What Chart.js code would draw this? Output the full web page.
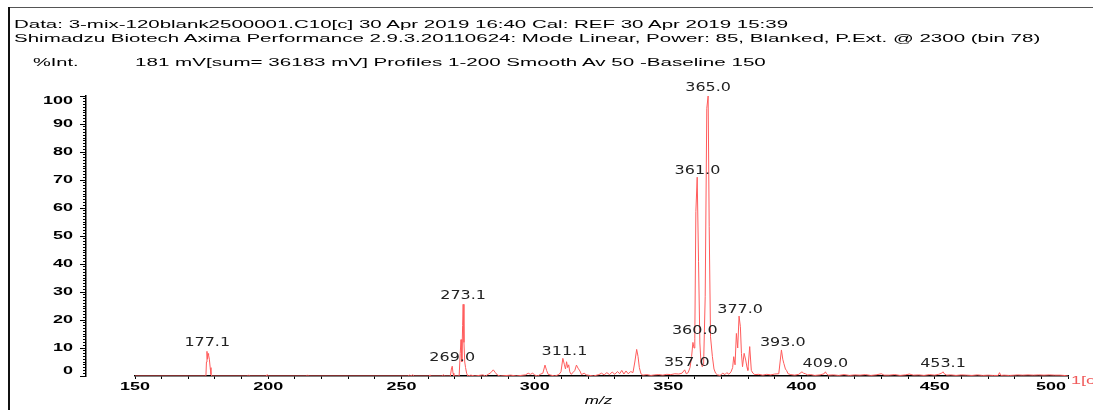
<!DOCTYPE html>
<html>
<head>
<meta charset="utf-8">
<script src="https://cdn.jsdelivr.net/npm/chart.js@4.4.1/dist/chart.umd.min.js"></script>
<style>
  html, body { margin: 0; padding: 0; background: #fff; overflow: hidden; }
  #wrap { position: relative; width: 1093px; height: 410px; overflow: hidden; }
  #spectrum { position: absolute; left: 0; top: 0; }
  .frame-top { position: absolute; left: 8px; top: 7px; right: 0; border-top: 1.5px solid #555; }
  .frame-left { position: absolute; left: 8px; top: 7px; bottom: 0; border-left: 2px solid #111; }
  .hdr { position: absolute; font: 10px "Liberation Sans", Arial, sans-serif; color: #000;
         white-space: nowrap; line-height: 12px; transform-origin: 0 50%; }
  .trace { color: #f05a5a; }
</style>
</head>
<body>
<div id="wrap">
  <canvas id="spectrum" width="1093" height="410"></canvas>
  <div class="frame-top"></div>
  <div class="frame-left"></div>
  <div class="hdr" data-w="774" style="left:14px; top:19px">Data: 3-mix-120blank2500001.C10[c] 30 Apr 2019 16:40 Cal: REF 30 Apr 2019 15:39</div>
  <div class="hdr" data-w="1027" style="left:14px; top:33px">Shimadzu Biotech Axima Performance 2.9.3.20110624: Mode Linear, Power: 85, Blanked, P.Ext. @ 2300 (bin 78)</div>
  <div class="hdr" data-w="46" style="left:33px; top:57px">%Int.</div>
  <div class="hdr" data-w="630" style="left:135px; top:57px">181 mV[sum= 36183 mV] Profiles 1-200 Smooth Av 50 -Baseline 150</div>
  <div class="hdr trace" data-sx="1.8" style="left:1071px; top:375px">1[c].C10</div>
</div>
<script>
// spectrum profile (m/z, %Int.)
const mzValues = [
  150, 176.6, 176.8, 177.0, 177.2, 177.4, 177.6, 177.9, 178.2, 178.5, 178.8,
  192.2, 192.6, 193.0, 199.2, 199.6, 200.0, 214.3, 214.7, 215.1,
  252.4, 252.9, 253.5, 254.2, 254.8, 260.3, 260.7, 261.1, 265.3, 265.7, 266.1,
  268.3, 268.7, 269.0, 269.3, 269.6, 271.6, 272.0, 272.3, 272.6, 272.9, 273.1, 273.4, 273.7, 274.0, 274.4, 274.8,
  276.0, 277.5, 280.5, 281.5, 282.5, 283.5, 284.4, 285.2, 286.0, 287.0, 291.0, 293.0,
  296.5, 297.5, 298.3, 299.2, 300.0, 301.2, 302.0, 303.0, 303.8, 304.4, 305.0, 306.0, 307.5,
  309.0, 309.8, 310.5, 311.1, 311.5, 311.9, 312.3, 312.7, 313.1, 313.6, 314.3, 315.0, 315.6, 316.2, 316.9,
  317.5, 318.5, 319.3, 320.5, 322.0, 324.0, 325.0, 326.0, 327.0, 328.0, 329.0, 330.0, 331.0, 331.8,
  332.6, 333.4, 334.2, 335.0, 336.0, 336.8, 337.5, 338.2, 338.7, 339.2, 339.8, 340.5,
  342.0, 343.5, 345.0, 346.5, 348.0, 349.5, 351.0, 352.5, 354.0, 355.2, 356.2, 356.8, 357.5,
  358.2, 358.8, 359.3, 359.7, 360.0, 360.4, 360.9, 361.4, 361.9, 362.3, 362.8, 363.3,
  363.9, 364.5, 365.0, 365.4, 365.9, 366.6, 367.2, 367.8, 368.5, 369.5,
  370.5, 371.3, 372.0, 372.8, 373.6, 374.2, 374.6, 375.1, 375.6, 376.1, 376.6, 377.1, 377.5, 377.9,
  378.5, 379.1, 379.6, 379.9, 380.6, 381.2, 381.8, 382.5, 384.0, 385.5, 387.0, 388.5, 390.0, 391.5,
  392.5, 393.0, 393.4, 394.0, 394.4, 395.0, 396.0, 397.5, 399.0, 400.2, 400.8, 401.5, 402.3, 403.5,
  405.0, 407.0, 408.5, 409.0, 409.4, 410.0, 412.0, 414.0, 416.0, 418.0, 420.0, 422.0, 424.0, 426.0,
  428.0, 430.0, 431.0, 433.0, 435.0, 437.0, 439.0, 440.5, 442.0, 444.0, 446.0, 448.0, 450.0,
  451.5, 452.6, 453.1, 453.6, 454.5, 456.0, 458.0, 460.0, 462.0, 464.0, 466.0, 468.0, 470.0, 472.0,
  473.8, 474.3, 474.8, 476.0, 478.0, 480.0, 481.0, 483.0, 485.0, 487.0, 489.0, 491.0, 493.0, 495.0,
  497.0, 498.5, 500.0
];
const intensity = [
  0, 0, 5, 8.8, 6, 8, 7.5, 6, 3, 0.5, 0,
  0, 0.4, 0, 0, 0.5, 0, 0, 0.4, 0,
  0, 0.3, 0, 0.4, 0, 0, 0.4, 0, 0, 0.5, 0,
  0, 2.5, 3.5, 1, 0, 0, 8, 13, 5, 18, 25.6, 12, 5, 3, 1, 0,
  0.3, 0, 0.4, 0, 0.6, 1.2, 2.2, 1.2, 0.3, 0, 0.3, 0,
  0.4, 1.0, 0.6, 1.0, 0.3, 0, 0.6, 1, 3.9, 2, 0.6, 0.3, 0,
  0.5, 1.5, 6.3, 4, 2.5, 5.1, 3, 4, 1.5, 0.6, 1.2, 2, 3.9, 2.8, 1.8,
  0.5, 1, 0.4, 0.2, 0, 0.5, 1.0, 0.4, 1.2, 0.5, 1.4, 0.6, 1.6, 0.8,
  2.0, 0.7, 1.8, 0.8, 1.6, 1.2, 5, 9.5, 7, 3, 0.8, 0.3,
  0.5, 0.2, 0.4, 0.5, 0.3, 0.6, 0.5, 0.8, 0.7, 1, 2.2, 0.8, 1.2,
  3, 7, 12, 10, 13.5, 58.7, 71, 40.8, 11.8, 5, 3.3, 4,
  28.3, 95.6, 100, 53.3, 14, 6.9, 2.5, 1, 0.4, 0.2,
  1, 0.5, 1.2, 0.6, 1.5, 3, 6.9, 4, 15.2, 10, 21.4, 17.6, 8, 3.3,
  8.1, 5.7, 3, 2, 10.5, 2, 1, 0.5, 0.6, 0.3, 0.6, 0.4, 0.7, 0.8,
  9.3, 6, 4.5, 2.5, 2, 0.8, 0.5, 0.3, 0.6, 1.5, 1, 0.8, 0.4, 0.5,
  0.2, 0.4, 0.8, 1.5, 0.8, 0.3, 0.4, 0.2, 0.5, 0.2, 0.4, 0.3, 0.5, 0.2,
  0.4, 0.8, 0.3, 0.3, 0.5, 0.2, 0.4, 0.7, 0.3, 0.4, 0.2, 0.5, 0.3,
  0.6, 1.0, 1.5, 0.8, 0.3, 0.4, 0.2, 0.4, 0.3, 0.2, 0.4, 0.2, 0.3, 0.2,
  0.2, 1.2, 0.2, 0.3, 0.2, 0.3, 0.4, 0.3, 0.4, 0.3, 0.4, 0.3, 0.4, 0.3,
  0.3, 0.2, 0
];

// labelled peaks
const peakMz = [177.1, 269.0, 273.1, 311.1, 357.0, 360.0, 361.0, 365.0, 377.0, 393.0, 409.0, 453.1];
const peakTop = [8.8, 3.5, 25.6, 5.8, 2.0, 13.2, 70.5, 100, 20.7, 8.8, 1.5, 1.5];

// axis tick labels
const xTickLabels = [150, 200, 250, 300, 350, 400, 450, 500];
const yTickLabels = [0, 10, 20, 30, 40, 50, 60, 70, 80, 90, 100];

const AXIS_FONT = 'bold 10px "Liberation Sans", Arial, sans-serif';
const PEAK_FONT = '12px "DejaVu Sans", Verdana, sans-serif';

function drawStretched(ctx, text, x, y, align, sx) {
    ctx.save();
    ctx.translate(x, y);
    ctx.scale(sx, 1);
    ctx.textAlign = align;
    ctx.textBaseline = 'middle';
    ctx.fillText(text, 0, 0);
    ctx.restore();
}

// stretch header lines to the widths seen in the picture
document.querySelectorAll('.hdr').forEach((el) => {
    const sx = el.dataset.w ? parseFloat(el.dataset.w) / el.offsetWidth : parseFloat(el.dataset.sx);
    el.style.transform = `scaleX(${sx})`;
});

const spectrumLabels = {
    id: 'spectrumLabels',
    afterLayout(chart) {
        // both intensity axes sit detached to the left of the m/z axis
        const axisX = chart.chartArea.left - 49;
        [chart.scales.y, chart.scales.yMinor].forEach((s) => {
            const w = s.right - s.left;
            s.right = axisX;
            s.left = axisX - w;
        });
    },
    afterDraw(chart) {
        const { ctx, scales: { x, y } } = chart;
        ctx.save();
        ctx.fillStyle = '#000';
        ctx.font = AXIS_FONT;
        const axisSx = 30 / ctx.measureText('100').width;

        xTickLabels.forEach((v, i) => {
            const last = i === xTickLabels.length - 1;
            const px = x.getPixelForValue(v);
            drawStretched(ctx, String(v), last ? px - 2 : px, x.top + 11, last ? 'right' : 'center', axisSx);
        });

        yTickLabels.forEach((v) => {
            let py = y.getPixelForValue(v);
            if (v === y.min) py -= 5;
            if (v === y.max) py += 5.5;
            drawStretched(ctx, String(v), y.right - 13, py, 'right', axisSx);
        });

        ctx.font = 'italic 10px "Liberation Sans", Arial, sans-serif';
        drawStretched(ctx, 'm/z', (x.left + x.right) / 2 - 3, 401, 'center', 1.7);

        ctx.font = PEAK_FONT;
        ctx.fillStyle = '#222';
        const peakSx = 45.7 / ctx.measureText('365.0').width;
        peakMz.forEach((m, i) => {
            drawStretched(ctx, m.toFixed(1), x.getPixelForValue(m), y.getPixelForValue(peakTop[i]) - 8, 'center', peakSx);
        });
        ctx.restore();
    }
};

new Chart(document.getElementById('spectrum'), {
    type: 'line',
    data: {
        datasets: [{
            data: mzValues.map((m, i) => ({ x: m, y: intensity[i] })),
            borderColor: '#ff5b5b',
            borderWidth: 1,
            pointRadius: 0,
            tension: 0,
            fill: false
        }]
    },
    options: {
        responsive: false,
        animation: false,
        events: [],
        layout: { padding: { left: 75, top: 96, right: 25, bottom: 0 } },
        plugins: {
            legend: { display: false },
            tooltip: { enabled: false }
        },
        scales: {
            x: {
                type: 'linear',
                min: 150,
                max: 500,
                z: 1,
                ticks: { display: false, stepSize: 10, autoSkip: false },
                grid: { drawOnChartArea: false, tickLength: 3, tickColor: '#000' },
                border: { color: '#000', width: 1.5 },
                afterFit(scale) { scale.height = 34; }
            },
            y: {
                type: 'linear',
                position: 'left',
                min: 0,
                max: 100,
                ticks: { display: false, stepSize: 10, autoSkip: false },
                grid: { drawOnChartArea: false, tickLength: 6, tickColor: '#000' },
                border: { color: '#000', width: 1.5 },
                afterFit(scale) { scale.width = 60; }
            },
            yMinor: {
                type: 'linear',
                position: 'left',
                min: 0,
                max: 100,
                ticks: { display: false, stepSize: 1, autoSkip: false },
                grid: { drawOnChartArea: false, tickLength: 3, tickColor: '#000', tickWidth: 1 },
                border: { display: false },
                afterFit(scale) { scale.width = 0; }
            }
        }
    },
    plugins: [spectrumLabels]
});
</script>
</body>
</html>
